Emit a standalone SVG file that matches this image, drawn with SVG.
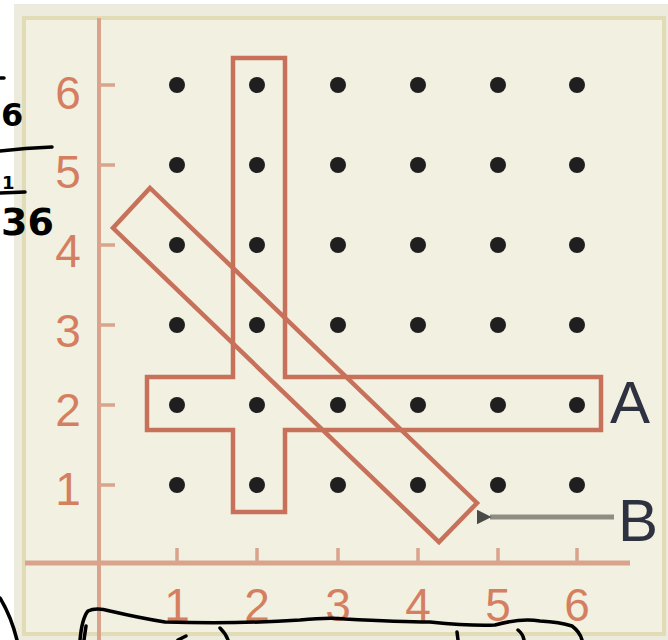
<svg xmlns="http://www.w3.org/2000/svg" width="668" height="640" viewBox="0 0 668 640">
  <style>
    .axis { stroke: #d9a38c; fill: none; }
    .tick { stroke: #d9a38c; stroke-width: 3.5; }
    .dot { fill: #1f1f1f; }
    .shape { fill: none; stroke: #c8715a; stroke-width: 4.5; stroke-linejoin: miter; }
    .num { font-family: "Liberation Sans", Arial, sans-serif; font-size: 46px; fill: #d47f60; text-anchor: middle; }
    .lbl { font-family: "Liberation Sans", Arial, sans-serif; font-size: 60px; fill: #2d3140; }
    .hand { font-family: "DejaVu Sans", sans-serif; fill: #000; font-weight: bold; }
    .ink { fill: none; stroke: #000; stroke-width: 3.5; stroke-linecap: round; stroke-linejoin: round; }
  </style>
  <defs>
    <marker id="arrowB" viewBox="0 0 10 10" refX="1" refY="5" markerWidth="3" markerHeight="3" orient="auto-start-reverse">
      <path d="M0,5 L10,0 L10,10 Z" fill="#4a4a48"/>
    </marker>
  </defs>
  <rect x="0" y="0" width="668" height="640" fill="#ffffff"/>
  <g id="panel">
    <rect x="14" y="4" width="660" height="640" fill="#edebdd"/>
    <rect x="24" y="18" width="640" height="616" fill="#f2f0e1" stroke="#e1dbb6" stroke-width="4"/>
  </g>
  <g id="axes">
    <line class="axis" x1="99" y1="18" x2="99" y2="640" stroke-width="4"/>
    <line class="axis" x1="25" y1="563" x2="630" y2="563" stroke-width="5"/>
    <g id="y-ticks">
      <line class="tick" x1="99" y1="85" x2="115" y2="85"/>
      <line class="tick" x1="99" y1="165" x2="115" y2="165"/>
      <line class="tick" x1="99" y1="245" x2="115" y2="245"/>
      <line class="tick" x1="99" y1="325" x2="115" y2="325"/>
      <line class="tick" x1="99" y1="405" x2="115" y2="405"/>
      <line class="tick" x1="99" y1="485" x2="115" y2="485"/>
    </g>
    <g id="x-ticks">
      <line class="tick" x1="177" y1="548" x2="177" y2="563"/>
      <line class="tick" x1="257" y1="548" x2="257" y2="563"/>
      <line class="tick" x1="338" y1="548" x2="338" y2="563"/>
      <line class="tick" x1="418" y1="548" x2="418" y2="563"/>
      <line class="tick" x1="498" y1="548" x2="498" y2="563"/>
      <line class="tick" x1="577" y1="548" x2="577" y2="563"/>
    </g>
    <g id="y-labels">
      <text class="num" x="68" y="109">6</text>
      <text class="num" x="68" y="188">5</text>
      <text class="num" x="68" y="267">4</text>
      <text class="num" x="68" y="347">3</text>
      <text class="num" x="68" y="426">2</text>
      <text class="num" x="68" y="505">1</text>
    </g>
    <g id="x-labels">
      <text class="num" x="177" y="621">1</text>
      <text class="num" x="257" y="621">2</text>
      <text class="num" x="338" y="621">3</text>
      <text class="num" x="418" y="621">4</text>
      <text class="num" x="498" y="621">5</text>
      <text class="num" x="577" y="621">6</text>
    </g>
  </g>
  <g id="dots">
    <circle class="dot" cx="177" cy="85" r="8"/><circle class="dot" cx="257" cy="85" r="8"/><circle class="dot" cx="338" cy="85" r="8"/><circle class="dot" cx="418" cy="85" r="8"/><circle class="dot" cx="498" cy="85" r="8"/><circle class="dot" cx="577" cy="85" r="8"/>
    <circle class="dot" cx="177" cy="165" r="8"/><circle class="dot" cx="257" cy="165" r="8"/><circle class="dot" cx="338" cy="165" r="8"/><circle class="dot" cx="418" cy="165" r="8"/><circle class="dot" cx="498" cy="165" r="8"/><circle class="dot" cx="577" cy="165" r="8"/>
    <circle class="dot" cx="177" cy="245" r="8"/><circle class="dot" cx="257" cy="245" r="8"/><circle class="dot" cx="338" cy="245" r="8"/><circle class="dot" cx="418" cy="245" r="8"/><circle class="dot" cx="498" cy="245" r="8"/><circle class="dot" cx="577" cy="245" r="8"/>
    <circle class="dot" cx="177" cy="325" r="8"/><circle class="dot" cx="257" cy="325" r="8"/><circle class="dot" cx="338" cy="325" r="8"/><circle class="dot" cx="418" cy="325" r="8"/><circle class="dot" cx="498" cy="325" r="8"/><circle class="dot" cx="577" cy="325" r="8"/>
    <circle class="dot" cx="177" cy="405" r="8"/><circle class="dot" cx="257" cy="405" r="8"/><circle class="dot" cx="338" cy="405" r="8"/><circle class="dot" cx="418" cy="405" r="8"/><circle class="dot" cx="498" cy="405" r="8"/><circle class="dot" cx="577" cy="405" r="8"/>
    <circle class="dot" cx="177" cy="485" r="8"/><circle class="dot" cx="257" cy="485" r="8"/><circle class="dot" cx="338" cy="485" r="8"/><circle class="dot" cx="418" cy="485" r="8"/><circle class="dot" cx="498" cy="485" r="8"/><circle class="dot" cx="577" cy="485" r="8"/>
  </g>
  <g id="shape-A">
    <polygon class="shape" points="233,58 285,58 285,377 601,377 601,430 285,430 285,512 233,512 233,430 147,430 147,377 233,377"/>
    <text class="lbl" x="610" y="423">A</text>
  </g>
  <g id="shape-B">
    <polygon class="shape" points="150,188 477,503 439,542 113,228"/>
    <text class="lbl" x="618" y="541">B</text>
  </g>
  <g id="connectors">
    <line x1="614" y1="517" x2="490" y2="517" stroke="#8e8d84" stroke-width="5" marker-end="url(#arrowB)"/>
  </g>
  <g id="handwriting">
    <path class="ink" d="M0,78 L4,78"/>
    <text class="hand" x="1" y="126" font-size="32">6</text>
    <path class="ink" d="M0,151 Q25,148 52,147"/>
    <text class="hand" x="2" y="189" font-size="18">1</text>
    <path class="ink" d="M0,193 L25,192"/>
    <text class="hand" x="1" y="235" font-size="38">36</text>
    <path class="ink" d="M0,598 Q11,616 17,640"/>
    <path class="ink" d="M80,640 Q82,618 88,611 Q96,607 110,611 Q140,618 165,622 Q240,624 300,620 Q330,617 345,619 Q400,622 430,622 Q470,626 495,625 Q520,618 540,621 Q560,622 572,626 Q580,632 582,640"/>
    <path class="ink" d="M86,626 L84,640"/>
    <path class="ink" d="M178,640 L186,636"/>
    <path class="ink" d="M220,628 Q226,634 228,640"/>
    <path class="ink" d="M457,632 L458,640"/>
    <path class="ink" d="M518,630 Q523,634 524,640"/>
  </g>
</svg>
